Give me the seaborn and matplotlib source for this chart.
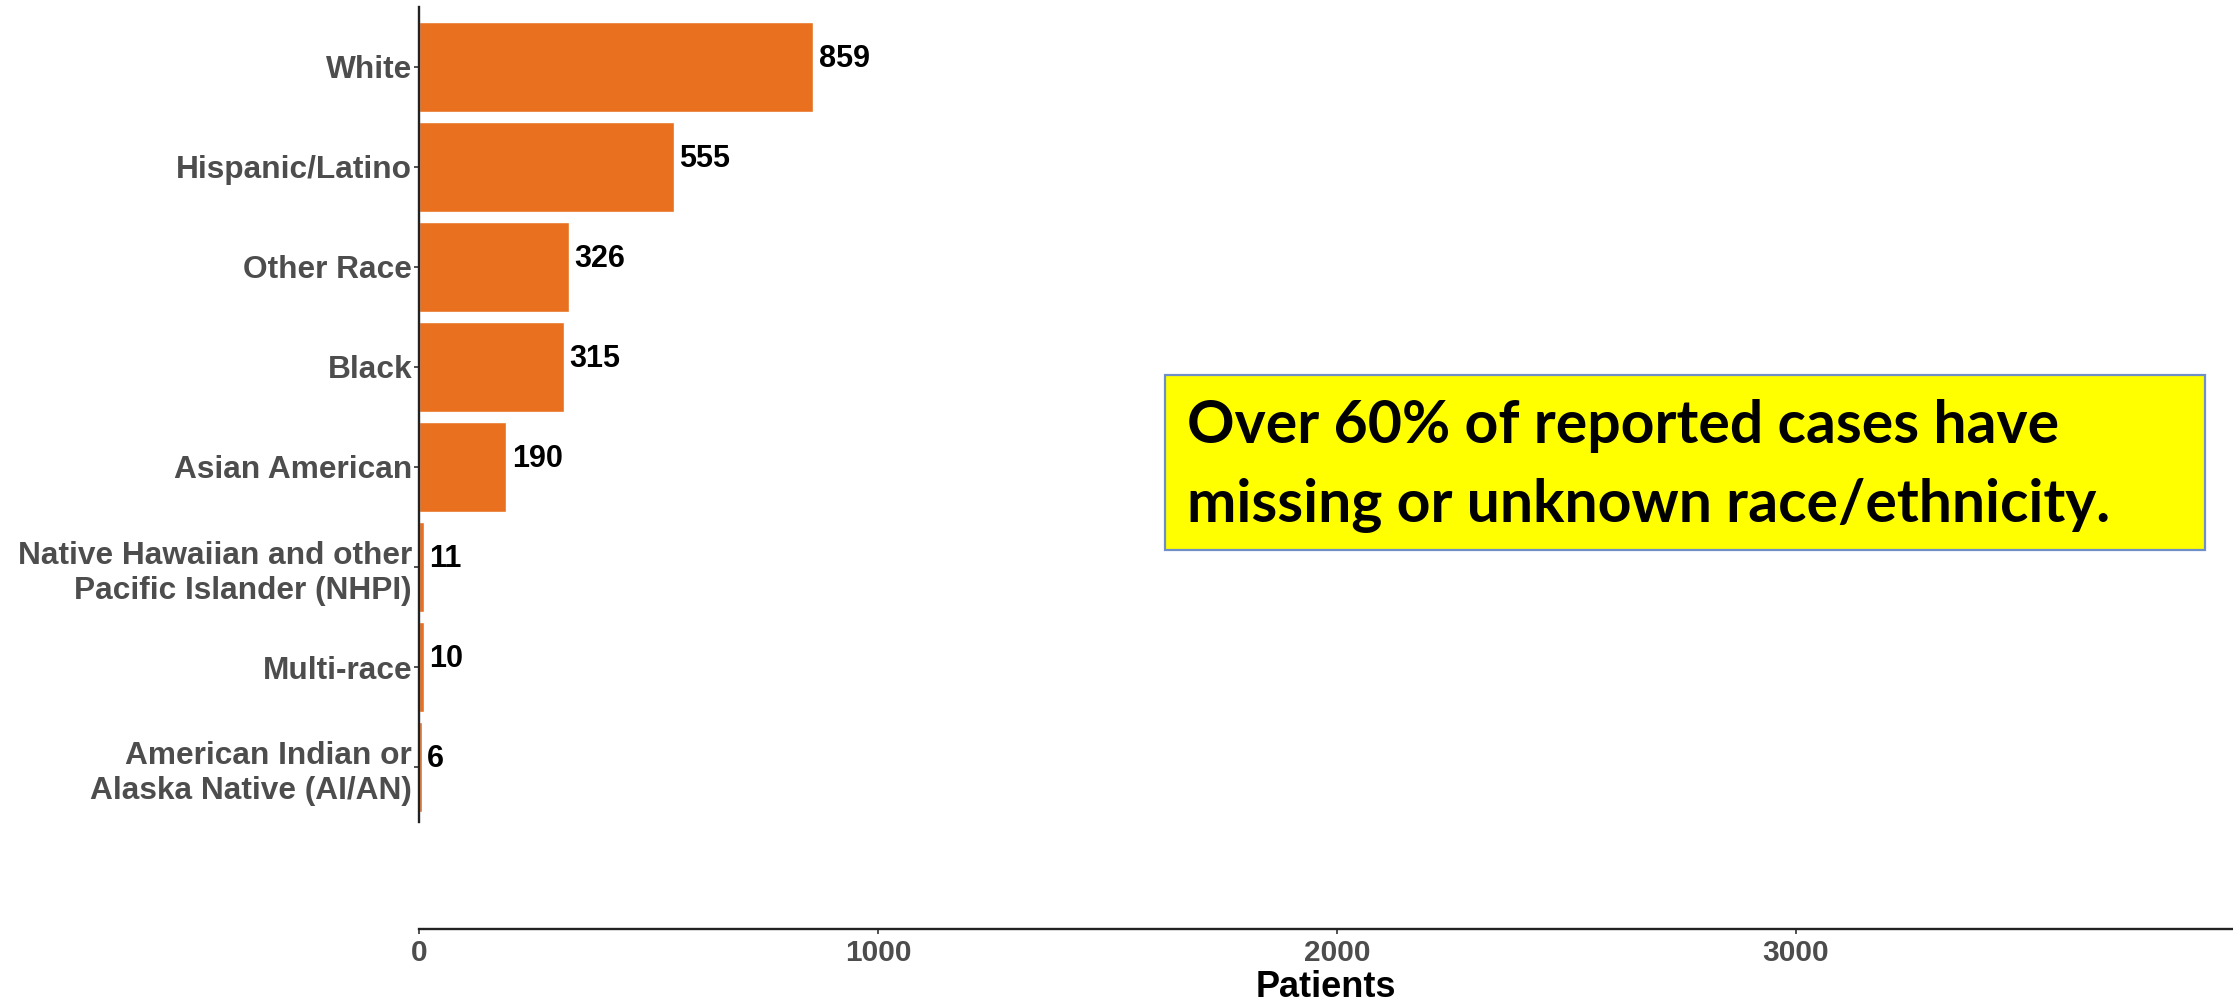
import matplotlib
matplotlib.use("Agg")
import matplotlib.pyplot as plt
from matplotlib.patches import Rectangle
import seaborn as sns
import pandas as pd

# Reported patients by race/ethnicity
categories = [
    "White",
    "Hispanic/Latino",
    "Other Race",
    "Black",
    "Asian American",
    "Native Hawaiian and other\nPacific Islander (NHPI)",
    "Multi-race",
    "American Indian or\nAlaska Native (AI/AN)",
]
patients = [859, 555, 326, 315, 190, 11, 10, 6]
x_ticks = [0, 1000, 2000, 3000]
note_lines = ["Over 60% of reported cases have", "missing or unknown race/ethnicity."]

BAR_COLOR = "#E8701E"
TICK_GREY = "#4D4D4D"
AXIS_COLOR = "#222222"

W, H, DPI = 2233, 1006, 100

sns.set_theme(style="white")
plt.rcParams["font.family"] = ["Liberation Sans", "DejaVu Sans"]

df = pd.DataFrame({"group": categories, "patients": patients})

fig = plt.figure(figsize=(W / DPI, H / DPI), dpi=DPI)
# panel in pixel geometry: left 419, right 2233, top 7, bottom 929
ax = fig.add_axes([419 / W, 1 - 929 / H, (W - 419) / W, (929 - 7) / H])

sns.barplot(data=df, y="group", x="patients", orient="h", color=BAR_COLOR,
            width=0.9, saturation=1, ax=ax, order=categories)

ax.set_xlim(0, 3952)
ax.set_ylim(8.62, -0.6)

# spines: left only over the categories, bottom across the panel
for side in ("top", "right"):
    ax.spines[side].set_visible(False)
for side in ("left", "bottom"):
    ax.spines[side].set_visible(True)
    ax.spines[side].set_color(AXIS_COLOR)
    ax.spines[side].set_linewidth(1.7)
ax.spines["left"].set_bounds(-0.6, 7.55)

ax.set_xticks(x_ticks)
ax.set_xticklabels([str(t) for t in x_ticks])
ax.tick_params(axis="x", which="both", bottom=True, direction="out", length=3.5,
               width=1.2, color="#333333", pad=4, labelsize=21.5,
               labelcolor=TICK_GREY)
ax.tick_params(axis="y", which="both", left=True, direction="out", length=3.5,
               width=1.2, color="#333333", pad=1.5, labelsize=22.8,
               labelcolor=TICK_GREY)
for lab in ax.get_xticklabels() + ax.get_yticklabels():
    lab.set_fontweight("bold")
for lab in ax.get_yticklabels():
    lab.set_linespacing(1.22)

ax.set_ylabel("")
ax.set_xlabel("Patients", fontsize=26, fontweight="bold", color="black",
              labelpad=2)
ax.grid(False)

# value labels at the end of each bar
for i, v in enumerate(patients):
    ax.annotate(str(v), xy=(v, i), xytext=(4, 6), textcoords="offset points",
                ha="left", va="center", fontsize=22, fontweight="bold",
                color="black")

# highlighted note box
bx0, bx1, by0, by1 = 1165, 2205, 375, 550
fig.patches.append(Rectangle((bx0 / W, 1 - by1 / H), (bx1 - bx0) / W,
                             (by1 - by0) / H, transform=fig.transFigure,
                             facecolor="#FFFF00", edgecolor="#6F8FC8",
                             linewidth=1.6, zorder=5))
note_font = ["Lato", "DejaVu Sans"]
t1 = fig.text(1187 / W, 1 - 443 / H, note_lines[0], ha="left", va="baseline",
              fontsize=40, fontweight="bold", family=note_font, color="black",
              zorder=6)
t2 = fig.text(1187 / W, 1 - 522 / H, note_lines[1], ha="left", va="baseline",
              fontsize=40, fontweight="bold", family=note_font, color="black",
              zorder=6)
renderer = fig.canvas.get_renderer()
w1 = t1.get_window_extent(renderer).width
size = 40 * 870 / w1
t1.set_fontsize(size)
t2.set_fontsize(size)

fig.savefig("out.png", dpi=DPI, facecolor="white")
